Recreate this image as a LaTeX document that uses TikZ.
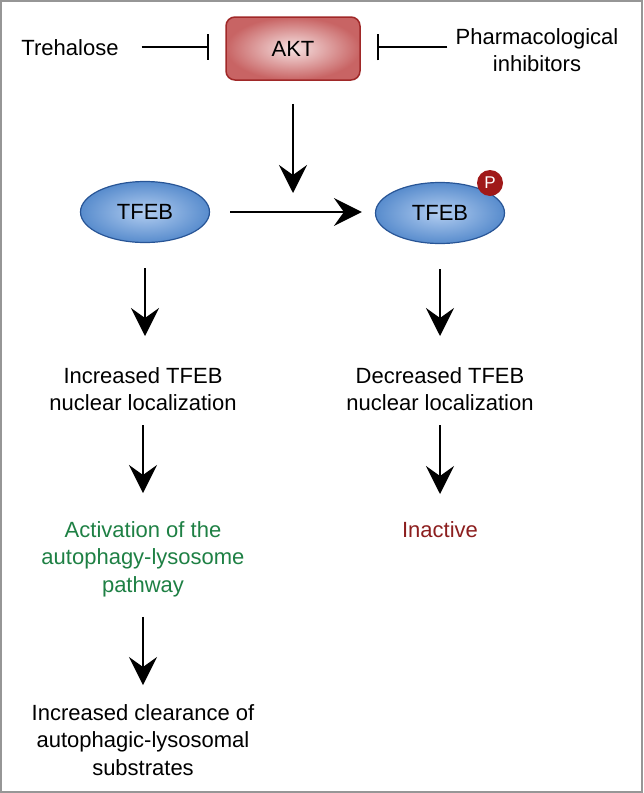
\documentclass[tikz,border=0pt]{standalone}
\usepackage{fontspec}
\setmainfont{Liberation Sans}
\usetikzlibrary{arrows.meta,shapes.geometric}
\definecolor{aktin}{RGB}{246,226,226}
\definecolor{aktout}{RGB}{200,100,100}
\definecolor{aktline}{RGB}{160,40,40}
\definecolor{tfin}{RGB}{178,205,240}
\definecolor{tfout}{RGB}{88,140,205}
\definecolor{tfline}{RGB}{40,85,150}
\definecolor{pred}{RGB}{160,25,25}
\definecolor{actgreen}{RGB}{30,128,68}
\definecolor{inred}{RGB}{140,30,30}
\definecolor{framegray}{RGB}{150,150,150}
\tikzset{
  lbl/.style={inner sep=0pt, align=center, font=\fontsize{22}{27.5}\selectfont},
  tfeb/.style={ellipse, draw=tfline, line width=1.2pt, inner color=tfin, outer color=tfout,
    minimum width=129pt, minimum height=61pt, inner sep=0pt, font=\fontsize{22}{27}\selectfont},
  arr/.style={line width=2pt, -{Stealth[length=28pt, width=28pt, inset=10pt]}},
  inhib/.style={line width=2pt, -{Bar[width=26pt, line width=2pt]}},
}
\begin{document}
\begin{tikzpicture}[x=1pt, y=-1pt]
\useasboundingbox (0,0) rectangle (643,793);
\draw[framegray, line width=2pt] (1,1) rectangle (642,792);

\node[lbl, anchor=north] (tre) at (70,39) {Trehalose};
\node[draw=aktline, line width=1.5pt, rounded corners=9pt, inner color=aktin, outer color=aktout,
  minimum width=134pt, minimum height=63pt, inner sep=0pt, font=\fontsize{22}{27}\selectfont]
  (akt) at (293,48.5) {AKT};
\node[lbl, anchor=north] (pharm) at (537,28) {Pharmacological\\inhibitors};

\draw[inhib, shorten <=23pt, shorten >=16pt] (tre.east) -- (tre.east -| akt.west);
\draw[inhib, shorten <=8pt, shorten >=16pt] (pharm.west |- tre.east) -- (akt.east |- tre.east);

\coordinate (mid) at (293,193);
\draw[arr, shorten <=23pt] (akt.south) -- (mid);

\node[tfeb] (tf1) at (145,212) {TFEB};
\node[tfeb] (tf2) at (440,213) {TFEB};
\node[circle, fill=pred, minimum size=26pt, inner sep=0pt, text=white,
  font=\fontsize{17}{20}\selectfont] (p) at (490,183) {P};

\draw[arr, shorten <=20pt, shorten >=13pt] (tf1.east) -- (tf1.east -| tf2.west);

\node[lbl, anchor=north] (inc) at (143,367) {Increased TFEB\\nuclear localization};
\node[lbl, anchor=north] (dec) at (440,367) {Decreased TFEB\\nuclear localization};

\draw[arr, shorten <=25pt, shorten >=31pt] (tf1.south) -- (tf1.south |- inc.north);
\draw[arr, shorten <=25pt, shorten >=31pt] (tf2.south) -- (tf2.south |- dec.north);

\node[lbl, anchor=north, text=actgreen] (act) at (143,521) {Activation of the\\autophagy-lysosome\\pathway};
\node[lbl, anchor=north, text=inred] (inact) at (440,521) {Inactive};

\draw[arr, shorten <=14pt, shorten >=28pt] (inc.south) -- (act.north);
\draw[arr, shorten <=14pt, shorten >=27pt] (dec.south -| inact.north) -- (inact.north);

\node[lbl, anchor=north] (clr) at (143,704) {Increased clearance of\\autophagic-lysosomal\\substrates};

\draw[arr, shorten <=20pt, shorten >=19pt] (act.south) -- (clr.north);
\end{tikzpicture}
\end{document}
